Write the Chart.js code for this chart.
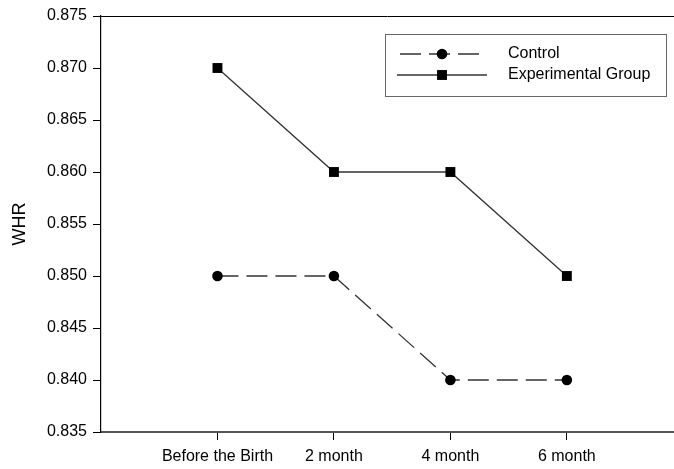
<!DOCTYPE html>
<html lang="en">
<head>
    <meta charset="UTF-8">
    <title>WHR</title>
    <script src="https://cdn.jsdelivr.net/npm/chart.js"></script>
    <style>
        html, body { margin: 0; padding: 0; overflow: hidden; background: #fff; }
        canvas { display: block; }
    </style>
</head>
<body>
    <canvas id="chart" width="674" height="469"></canvas>

    <script>
        // data
        var categories = ['Before the Birth', '2 month', '4 month', '6 month'];
        var controlValues = [0.850, 0.850, 0.840, 0.840];
        var experimentalValues = [0.870, 0.860, 0.860, 0.850];
        var yTicks = [0.835, 0.840, 0.845, 0.850, 0.855, 0.860, 0.865, 0.870, 0.875];

        Chart.defaults.font.family = '"Liberation Sans", Arial, sans-serif';
        Chart.defaults.color = '#000';

        function toPoints(values) {
            return values.map(function(v, i) {
                return { x: i + 1, y: v };
            });
        }

        // box legend + top frame line, drawn like the original
        var frameLegend = {
            id: 'frameLegend',
            afterDraw: function(chart) {
                var ctx = chart.ctx;
                var area = chart.chartArea;
                ctx.save();
                ctx.strokeStyle = '#000';
                ctx.lineWidth = 1;
                ctx.beginPath();
                ctx.moveTo(area.left, area.top + 0.5);
                ctx.lineTo(area.right, area.top + 0.5);
                ctx.stroke();

                // legend box
                ctx.strokeStyle = '#666';
                ctx.strokeRect(385.5, 34.5, 281, 62);

                var rows = [54, 75];
                chart.data.datasets.forEach(function(ds, i) {
                    var y = rows[i];
                    ctx.strokeStyle = ds.borderColor;
                    ctx.lineWidth = ds.borderWidth;
                    ctx.setLineDash(ds.borderDash || []);
                    ctx.lineDashOffset = ds.borderDash ? -3 : 0;
                    ctx.beginPath();
                    ctx.moveTo(397, y);
                    ctx.lineTo(487, y);
                    ctx.stroke();
                    ctx.setLineDash([]);
                    ctx.fillStyle = ds.pointBackgroundColor;
                    ctx.beginPath();
                    if (ds.pointStyle === 'rect') {
                        var s = ds.pointRadius * Math.SQRT1_2;
                        ctx.rect(442 - s, y - s, 2 * s, 2 * s);
                    } else {
                        ctx.arc(442, y, ds.pointRadius, 0, Math.PI * 2);
                    }
                    ctx.fill();
                    ctx.fillStyle = '#000';
                    ctx.font = '16px "Liberation Sans", Arial, sans-serif';
                    ctx.textBaseline = 'middle';
                    ctx.textAlign = 'left';
                    ctx.fillText(ds.label, 508, y);
                });
                ctx.restore();
            }
        };

        var ctx = document.getElementById('chart').getContext('2d');
        var chart = new Chart(ctx, {
            type: 'line',
            data: {
                datasets: [
                    {
                        label: 'Control',
                        data: toPoints(controlValues),
                        borderColor: '#333',
                        borderWidth: 1.3,
                        borderDash: [21, 8],
                        pointStyle: 'circle',
                        pointRadius: 5.3,
                        pointBackgroundColor: '#000',
                        pointBorderWidth: 0,
                        fill: false
                    },
                    {
                        label: 'Experimental Group',
                        data: toPoints(experimentalValues),
                        borderColor: '#333',
                        borderWidth: 1.3,
                        pointStyle: 'rect',
                        pointRadius: 7,
                        pointBackgroundColor: '#000',
                        pointBorderWidth: 0,
                        fill: false
                    }
                ]
            },
            options: {
                responsive: false,
                animation: false,
                layout: {
                    autoPadding: false,
                    padding: { top: 16, left: 0, right: 0, bottom: 0 }
                },
                plugins: {
                    legend: { display: false },
                    tooltip: { enabled: false }
                },
                scales: {
                    x: {
                        type: 'linear',
                        min: 0,
                        max: 4.92,
                        afterBuildTicks: function(axis) {
                            axis.ticks = categories.map(function(c, i) { return { value: i + 1 }; });
                        },
                        afterFit: function(scale) {
                            scale.height = 37;
                            scale.paddingLeft = 0;
                            scale.paddingRight = 0;
                        },
                        ticks: {
                            font: { size: 16 },
                            padding: 7,
                            maxRotation: 0,
                            callback: function(v) { return categories[v - 1]; }
                        },
                        grid: {
                            drawOnChartArea: false,
                            drawTicks: true,
                            tickLength: 8,
                            color: '#000'
                        },
                        border: { display: true, color: '#555', width: 2 }
                    },
                    y: {
                        min: yTicks[0],
                        max: yTicks[yTicks.length - 1],
                        afterBuildTicks: function(axis) {
                            axis.ticks = yTicks.map(function(v) { return { value: v }; });
                        },
                        afterFit: function(scale) {
                            scale.width = 101;
                            scale.paddingTop = 0;
                            scale.paddingBottom = 0;
                        },
                        ticks: {
                            font: { size: 16 },
                            padding: 6,
                            callback: function(v) { return v.toFixed(3); }
                        },
                        grid: {
                            drawOnChartArea: false,
                            drawTicks: true,
                            tickLength: 8,
                            color: '#000'
                        },
                        border: { display: true, color: '#000', width: 1.2 },
                        title: {
                            display: true,
                            text: 'WHR',
                            font: { size: 18 },
                            padding: { top: 9, bottom: 0 }
                        }
                    }
                }
            },
            plugins: [frameLegend]
        });
    </script>
</body>
</html>
